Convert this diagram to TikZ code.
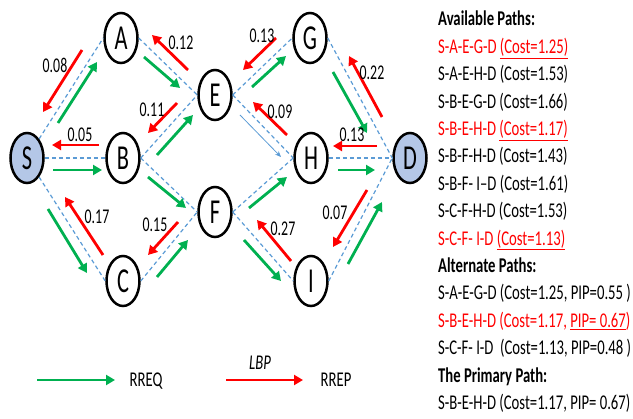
\documentclass[tikz,border=0pt]{standalone}
\usepackage{fontspec}
\setmainfont{Carlito}[FakeStretch=0.7]
\newfontfamily\nodefont{Carlito}[FakeStretch=0.64]
\newfontfamily\labfont{Carlito}[FakeStretch=0.66]
\usetikzlibrary{shapes.geometric,arrows.meta}
\definecolor{pgreen}{HTML}{00B050}
\definecolor{pred}{HTML}{FF0000}
\definecolor{pblue}{HTML}{5B9BD5}
\definecolor{pfill}{HTML}{B4C7E7}
\newcommand\pArrow[4]{\coordinate (#2a) at #3; \coordinate (#2b) at #4; \draw[#1] (#2a) -- (#2b);}
\tikzset{
  nd/.style={ellipse, draw=black, line width=2.5pt, minimum width=33pt, minimum height=50pt, inner sep=0pt, font=\nodefont\fontsize{35}{35}\selectfont},
  srcnode/.style={nd, fill=pfill},
  link/.style={pblue, line width=1.2pt, dash pattern=on 4pt off 3pt},
  rreq/.style={pgreen, line width=2.8pt, -{Triangle[length=9pt,width=10pt]}},
  rrep/.style={pred, line width=2.8pt, -{Triangle[length=9pt,width=10pt]}},
  thinarr/.style={pblue, line width=0.8pt, -{Stealth[length=6pt,width=5pt]}},
  cost/.style={font=\labfont\fontsize{21}{21}\selectfont, inner sep=0pt},
  txt/.style={anchor=base west, inner sep=0pt, font=\fontsize{21}{21}\selectfont},
  legtxt/.style={anchor=base, inner sep=0pt, font=\fontsize{21}{21}\selectfont},
}
\begin{document}
\begin{tikzpicture}[x=1pt,y=-1pt]
\useasboundingbox (0,0) rectangle (633,419);
% nodes
\node[srcnode] (S) at (27,158) {S};
\node[nd] (A) at (121,38) {A};
\node[nd] (B) at (123,158) {B};
\node[nd] (C) at (123,281) {C};
\node[nd] (E) at (215,95) {E};
\node[nd] (F) at (215,212) {F};
\node[nd] (G) at (310,38) {G};
\node[nd] (H) at (311,158) {H};
\node[nd] (I) at (311,281) {I};
\node[srcnode] (D) at (410,158) {D};
% dashed links
\draw[link] (S) -- (A.west);
\draw[link] (S) -- (B.west);
\draw[link] (S) -- (C.west);
\draw[link] (A.east) -- (E.west);
\draw[link] (B.east) -- (E.west);
\draw[link] (B.east) -- (F.west);
\draw[link] (C.east) -- (F.west);
\draw[link] (E.east) -- (G.west);
\draw[link] (E.east) -- (H.west);
\draw[link] (F.east) -- (H.west);
\draw[link] (F.east) -- (I.west);
\draw[link] (G.east) -- (D.west);
\draw[link] (H.east) -- (D.west);
\draw[link] (I.east) -- (D.west);
% RREQ arrows
\pArrow{rreq}{g1}{(58,123)}{(97,62)}
\pArrow{rreq}{g2}{(144,57)}{(180,88)}
\pArrow{rreq}{g3}{(53,170)}{(102,170)}
\pArrow{rreq}{g4}{(157,155)}{(193,115)}
\pArrow{rreq}{g5}{(148,177)}{(186,208)}
\pArrow{rreq}{g6}{(48,209)}{(87,273)}
\pArrow{rreq}{g7}{(157,277)}{(188,240)}
\pArrow{rreq}{g8}{(252,87)}{(286,56)}
\pArrow{rreq}{g9}{(249,208)}{(287,177)}
\pArrow{rreq}{g10}{(244,240)}{(281,281)}
\pArrow{rreq}{g11}{(333,72)}{(367,133)}
\pArrow{rreq}{g12}{(338,170)}{(375,170)}
\pArrow{rreq}{g13}{(348,264)}{(382,202)}
\pArrow{thinarr}{b1}{(240,115)}{(281,157)}
% RREP arrows
\pArrow{rrep}{r1}{(82,50)}{(43,112)}
\pArrow{rrep}{r2}{(188,70)}{(152,35)}
\pArrow{rrep}{r3}{(99,145)}{(52,145)}
\pArrow{rrep}{r4}{(177,103)}{(148,133)}
\pArrow{rrep}{r5}{(103,255)}{(65,197)}
\pArrow{rrep}{r6}{(178,222)}{(148,255)}
\pArrow{rrep}{r7}{(276,38)}{(243,70)}
\pArrow{rrep}{r8}{(287,135)}{(253,102)}
\pArrow{rrep}{r9}{(382,117)}{(349,56)}
\pArrow{rrep}{r10}{(377,146)}{(333,146)}
\pArrow{rrep}{r11}{(291,261)}{(257,220)}
\pArrow{rrep}{r12}{(367,190)}{(333,247)}
% cost labels
\node[cost] (l1) at (55,65) {0.08};
\node[cost] (l2) at (181,43) {0.12};
\node[cost] (l3) at (80,135) {0.05};
\node[cost] (l4) at (152,110) {0.11};
\node[cost] (l5) at (97,217) {0.17};
\node[cost] (l6) at (155,225) {0.15};
\node[cost] (l7) at (262,36) {0.13};
\node[cost] (l8) at (280,112) {0.09};
\node[cost] (l9) at (372,73) {0.22};
\node[cost] (l10) at (352,135) {0.13};
\node[cost] (l11) at (283,229) {0.27};
\node[cost] (l12) at (335,213) {0.07};
% legend
\coordinate (lg1) at (37,380);
\coordinate (lg2) at (115,380);
\draw[rreq] (lg1) -- (lg2);
\node[legtxt] (rq) at (146,387) {RREQ};
\coordinate (lr1) at (226,380);
\coordinate (lr2) at (303,380);
\draw[rrep] (lr1) -- (lr2);
\node[legtxt] (lbp) at (260,370) {\itshape LBP};
\node[legtxt] (rp) at (336,387) {RREP};
% path list
\node[txt] (t0) at (438,26.0) {\bfseries Available Paths:};
\node[txt,text=pred] (t1) at (438,53.4) {S-A-E-G-D \underline{(Cost=1.25)}};
\node[txt] (t2) at (438,80.8) {S-A-E-H-D (Cost=1.53)};
\node[txt] (t3) at (438,108.2) {S-B-E-G-D (Cost=1.66)};
\node[txt,text=pred] (t4) at (438,135.6) {S-B-E-H-D \underline{(Cost=1.17)}};
\node[txt] (t5) at (438,163.0) {S-B-F-H-D (Cost=1.43)};
\node[txt] (t6) at (438,190.4) {S-B-F- I–D (Cost=1.61)};
\node[txt] (t7) at (438,217.8) {S-C-F-H-D (Cost=1.53)};
\node[txt,text=pred] (t8) at (438,245.2) {S-C-F- I-D \underline{(Cost=1.13)}};
\node[txt] (t9) at (438,272.6) {\bfseries Alternate Paths:};
\node[txt] (t10) at (438,300.0) {S-A-E-G-D (Cost=1.25, PIP=0.55 )};
\node[txt,text=pred] (t11) at (438,327.4) {S-B-E-H-D (Cost=1.17, \underline{PIP= 0.67})};
\node[txt] (t12) at (438,354.8) {S-C-F- I-D \ (Cost=1.13, PIP=0.48 )};
\node[txt] (t13) at (438,382.2) {\bfseries The Primary Path:};
\node[txt] (t14) at (438,409.6) {S-B-E-H-D (Cost=1.17, PIP= 0.67)};
\end{tikzpicture}
\end{document}
